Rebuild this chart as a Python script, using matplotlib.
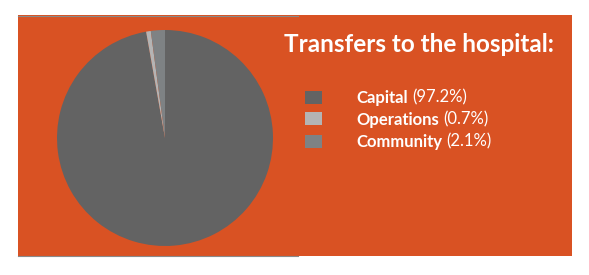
import matplotlib
matplotlib.use("Agg")
import matplotlib.pyplot as plt
from matplotlib.patches import Rectangle

# data
labels = ["Capital", "Operations", "Community"]
shares = [97.2, 0.7, 2.1]
colors = ["#636363", "#b4b4b4", "#7e8284"]
title = "Transfers to the hospital:"

W, H = 589, 275
BG = "#d95223"

plt.rcParams["font.family"] = ["Lato", "DejaVu Sans"]

fig = plt.figure(figsize=(W / 100, H / 100), dpi=100)
fig.patch.set_facecolor("white")

# orange panel (pixel coords -> figure fraction)
def fx(x):
    return x / W

def fy(y):
    return 1 - y / H

fig.patches.append(Rectangle((fx(18), fy(256)), fx(572) - fx(18), fy(15) - fy(256),
                             transform=fig.transFigure, facecolor=BG, edgecolor="none", zorder=-2))
# thin grey edges on the left part of the panel
fig.add_artist(plt.Line2D([fx(18), fx(298)], [fy(15.5), fy(15.5)], transform=fig.transFigure,
                          color="#8a8a8a", linewidth=0.8, zorder=-1))
fig.add_artist(plt.Line2D([fx(18), fx(298)], [fy(256), fy(256)], transform=fig.transFigure,
                          color="#8a8a8a", linewidth=0.8, zorder=-1))

# pie
cx, cy, r = 165, 138, 108
ax = fig.add_axes([fx(cx - r), fy(cy + r), 2 * r / W, 2 * r / H])
ax.pie(shares, colors=colors, startangle=90, counterclock=False,
       wedgeprops=dict(linewidth=0))
ax.set_xlim(-1, 1)
ax.set_ylim(-1, 1)
ax.set_aspect("equal")
ax.axis("off")

fig.text(fx(419), fy(44), title, color="white", fontsize=17.5, fontweight="bold",
         ha="center", va="center")

# legend
renderer = fig.canvas.get_renderer()
row_y = [97, 119, 141]
for lab, val, col, y in zip(labels, shares, colors, row_y):
    fig.patches.append(Rectangle((fx(305), fy(y + 6.5)), 17 / W, 13 / H,
                                 transform=fig.transFigure, facecolor=col, edgecolor="none"))
    t = fig.text(fx(356), fy(y + 0.5), lab, color="white", fontsize=12, fontweight="bold",
                 ha="left", va="center")
    bb = t.get_window_extent(renderer)
    fig.text(bb.x1 / W + 4.5 / W, fy(y + 0.5), f"({val}%)", color="white", fontsize=12,
             ha="left", va="center")

fig.savefig("out.png", dpi=100, facecolor="white")
